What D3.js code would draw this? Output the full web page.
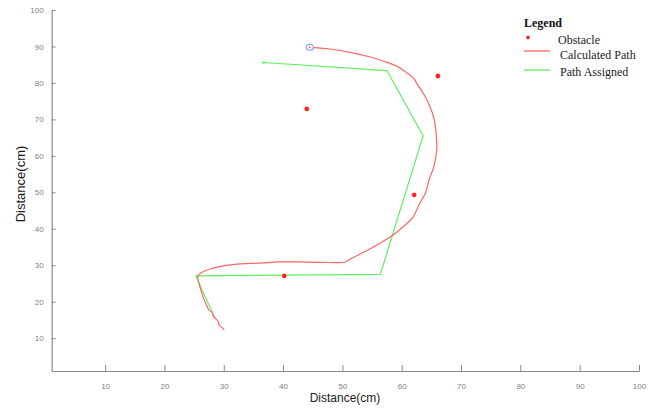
<!DOCTYPE html>
<html>
<head>
<meta charset="utf-8">
<script src="https://cdn.jsdelivr.net/npm/d3@7"></script>
<style>
  html, body { margin: 0; padding: 0; background: #fff; }
  svg { display: block; }
</style>
</head>
<body>
<svg id="chart" width="654" height="408"></svg>
<script>
// Axis ticks
const xTicks = [10, 20, 30, 40, 50, 60, 70, 80, 90, 100];
const yTicks = [10, 20, 30, 40, 50, 60, 70, 80, 90, 100];

// Obstacle positions (x, y in cm)
const obstacleX = [66.1, 44.0, 62.1, 40.2];
const obstacleY = [81.9, 72.9, 49.3, 27.1];

// Path assigned to the robot (waypoints)
const assignedX = [36.7, 57.5, 63.6, 56.4, 25.3, 28.5];
const assignedY = [85.6, 83.4, 65.5, 27.5, 27.1, 15.5];

// Path calculated while avoiding obstacles
const calcX = [45.1, 47.9, 51.3, 54.7, 56.9, 59.4, 60.9, 62.1, 62.6, 63.8, 64.8, 65.5, 65.8, 65.9,
  65.4, 64.6, 64.0, 62.9, 61.9, 60.2, 58.1, 55.2, 53.0, 51.3, 50.5, 46.2, 42.9, 39.5, 36.1, 32.8,
  30.2, 28.2, 26.5, 25.6, 25.8, 26.3, 26.7, 27.1, 27.5, 28.0, 28.3, 28.7, 29.1, 29.2, 29.6, 30.1];
const calcY = [89.7, 89.3, 88.4, 87.1, 86.0, 84.4, 82.7, 81.1, 79.7, 76.7, 73.4, 69.8, 66.3, 61.6,
  57.0, 53.4, 49.8, 46.5, 43.2, 40.5, 37.8, 35.0, 33.1, 31.7, 30.9, 30.8, 30.9, 30.9, 30.6, 30.4,
  29.9, 29.2, 28.2, 26.8, 25.1, 22.4, 20.5, 19.1, 17.7, 17.2, 15.9, 15.3, 14.5, 13.6, 13.1, 12.3];

// Start position of the robot
const startX = [44.5];
const startY = [89.8];

const svg = d3.select("#chart");
const plotLeft = 51.7, plotRight = 639, plotTop = 10, plotBottom = 371;

const x = d3.scaleLinear().domain([1, 100]).range([plotLeft, plotRight]);
const y = d3.scaleLinear().domain([1, 100]).range([plotBottom, plotTop]);

const axisColor = "#8a8a8a";
const tickFont = "'Liberation Sans Narrow', 'Liberation Sans', Arial, sans-serif";

// x axis with inward ticks
const gx = svg.append("g").attr("transform", `translate(0,${plotBottom})`)
  .call(d3.axisBottom(x).tickValues(xTicks).tickSizeInner(-6).tickSizeOuter(0).tickPadding(12));
gx.select(".domain").attr("stroke", axisColor).attr("stroke-width", 1.2);
gx.selectAll(".tick line").attr("stroke", axisColor);
gx.selectAll(".tick text").attr("fill", "#808080").attr("font-size", 8).attr("font-family", tickFont);

// y axis with inward ticks
const gy = svg.append("g").attr("transform", `translate(${plotLeft},0)`)
  .call(d3.axisLeft(y).tickValues(yTicks).tickSizeInner(-4).tickSizeOuter(0).tickPadding(8));
gy.select(".domain").attr("stroke", axisColor).attr("stroke-width", 1.2);
gy.selectAll(".tick line").attr("stroke", axisColor);
gy.selectAll(".tick text").attr("fill", "#808080").attr("font-size", 8).attr("font-family", tickFont);

// Axis titles
svg.append("text")
  .attr("x", 345).attr("y", 402)
  .attr("text-anchor", "middle")
  .attr("font-family", "'Liberation Sans', Arial, sans-serif")
  .attr("font-size", 12).attr("fill", "#222")
  .text("Distance(cm)");
svg.append("text")
  .attr("transform", "translate(25,184) rotate(-90)")
  .attr("text-anchor", "middle")
  .attr("font-family", "'Liberation Sans', Arial, sans-serif")
  .attr("font-size", 13).attr("fill", "#1a1a1a")
  .text("Distance(cm)");

const line = d3.line().x(d => x(d[0])).y(d => y(d[1]));

const redColor = "#ff6464";
const greenColor = "#5ef05e";

// Assigned path
svg.append("path")
  .datum(d3.zip(assignedX, assignedY))
  .attr("d", line)
  .attr("fill", "none")
  .attr("stroke", greenColor)
  .attr("stroke-width", 1.2)
  .attr("stroke-linejoin", "round");
svg.append("circle")
  .attr("cx", x(assignedX[0])).attr("cy", y(assignedY[0]))
  .attr("r", 1.3).attr("fill", greenColor);

// Calculated path (smoothed through the sampled positions)
svg.append("path")
  .datum(d3.zip(calcX, calcY))
  .attr("d", d3.line().x(d => x(d[0])).y(d => y(d[1])).curve(d3.curveCatmullRom.alpha(0.5)))
  .attr("fill", "none")
  .attr("stroke", redColor)
  .attr("stroke-width", 1.2)
  .attr("stroke-linejoin", "round");

// Start marker
svg.selectAll(".start")
  .data(d3.zip(startX, startY))
  .join("g")
  .attr("class", "start")
  .each(function(d) {
    const g = d3.select(this);
    g.append("ellipse")
      .attr("cx", x(d[0])).attr("cy", y(d[1]))
      .attr("rx", 3.6).attr("ry", 3)
      .attr("fill", "none").attr("stroke", "#6f9fd8").attr("stroke-width", 1.1);
    g.append("circle")
      .attr("cx", x(d[0])).attr("cy", y(d[1]))
      .attr("r", 1).attr("fill", redColor);
  });

// Asterisk marker
function asterisk(g, cx, cy, r) {
  const p = d3.path();
  for (let i = 0; i < 4; i++) {
    const a = i * Math.PI / 4;
    p.moveTo(cx - r * Math.cos(a), cy - r * Math.sin(a));
    p.lineTo(cx + r * Math.cos(a), cy + r * Math.sin(a));
  }
  g.append("path").attr("d", p.toString())
    .attr("stroke", "#ff2020").attr("stroke-width", 1.3).attr("fill", "none");
}

const obsG = svg.append("g");
d3.zip(obstacleX, obstacleY).forEach(d => asterisk(obsG, x(d[0]), y(d[1]), 2.4));

// Legend
const legendFont = "'Liberation Serif', 'Times New Roman', serif";
const lg = svg.append("g");
lg.append("text").attr("x", 524).attr("y", 27)
  .attr("font-family", legendFont).attr("font-weight", "bold")
  .attr("font-size", 12).attr("fill", "#111").text("Legend");
asterisk(lg, 528, 37.5, 1.8);
lg.append("text").attr("x", 558).attr("y", 44)
  .attr("font-family", legendFont).attr("font-size", 12).attr("fill", "#222").text("Obstacle");
lg.append("line").attr("x1", 524).attr("x2", 550).attr("y1", 51).attr("y2", 51)
  .attr("stroke", redColor).attr("stroke-width", 1.3);
lg.append("text").attr("x", 560).attr("y", 59)
  .attr("font-family", legendFont).attr("font-size", 12).attr("fill", "#222").text("Calculated Path");
lg.append("line").attr("x1", 524).attr("x2", 550).attr("y1", 70).attr("y2", 70)
  .attr("stroke", greenColor).attr("stroke-width", 1.3);
lg.append("text").attr("x", 560).attr("y", 76)
  .attr("font-family", legendFont).attr("font-size", 12).attr("fill", "#222").text("Path Assigned");
</script>
</body>
</html>
